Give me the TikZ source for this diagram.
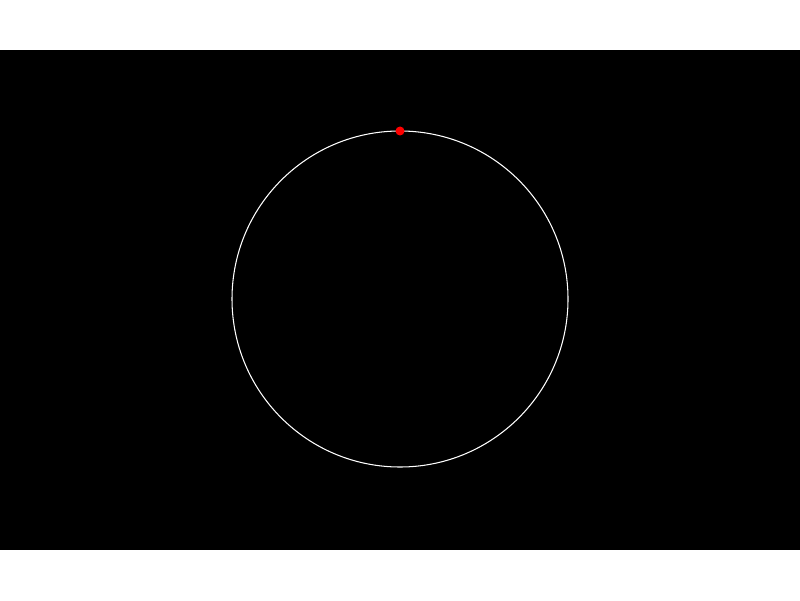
\documentclass[tikz,border=0pt]{standalone}
\usepackage{tikz}

\begin{document}
\begin{tikzpicture}[
  orbit/.style={draw=white, line width=0.6pt},
  marker/.style={fill=red}
]

%% --- canvas ---
\useasboundingbox[fill=white] (0,0) rectangle (16,12);
\fill[black] (0,1) rectangle (16,11);

%% --- orbit and marker ---
\coordinate (centre) at (8,6.02);
\draw[orbit] (centre) circle (3.36);
\fill[marker] (8,9.38) circle (0.09);

\end{tikzpicture}
\end{document}
